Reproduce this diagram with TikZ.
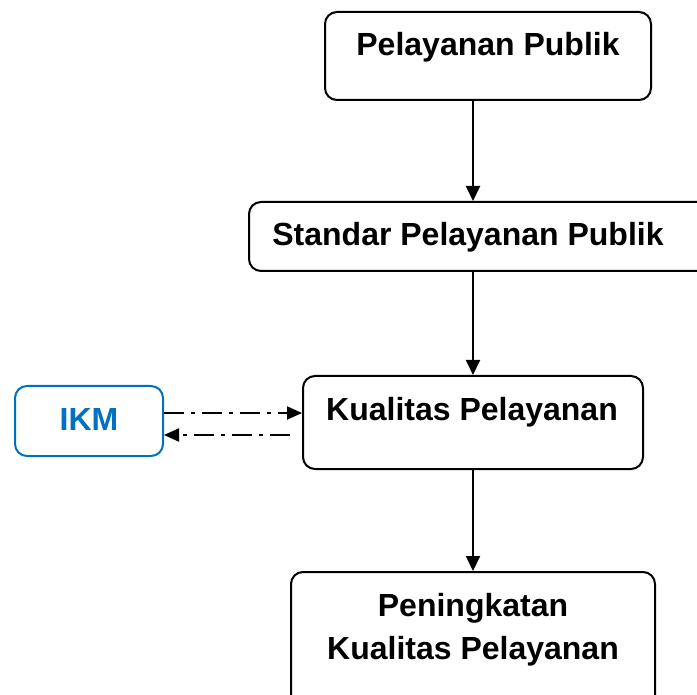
\documentclass[tikz,border=0pt]{standalone}
\usepackage{fontspec}
\setmainfont{Liberation Sans}
\usetikzlibrary{positioning, calc, arrows.meta}
\definecolor{ikmblue}{RGB}{0,112,192}

\begin{document}
\begin{tikzpicture}[x=1pt, y=-1pt,
		kotak/.style={draw, line width=2pt, rounded corners=12pt, inner sep=0pt},
		teks/.style={font=\fontsize{32}{43}\selectfont\bfseries, align=center, inner sep=0pt},
		panah/.style={line width=2pt, -{Triangle[length=15pt, width=14pt]}},
		putus/.style={line width=2pt, dash pattern=on 20pt off 7pt on 4pt off 7pt, -{Triangle[length=15pt, width=13pt]}}]
		\useasboundingbox (0,0) rectangle (697,695);
		%% kotak
		\node[kotak, minimum width=326pt, minimum height=88pt] (pp) at (488,56) {};
		\node[kotak, minimum width=471pt, minimum height=69pt] (spp) at (484.5,236.5) {};
		\node[kotak, minimum width=340pt, minimum height=93pt] (kp) at (473,422.5) {};
		\node[kotak, minimum width=364pt, minimum height=148pt] (pkp) at (473,646) {};
		\node[kotak, draw=ikmblue, minimum width=148pt, minimum height=70pt] (ikm) at (89,421) {};
		%% teks
		\node[teks] (ppT) at (488,47) {Pelayanan Publik};
		\node[teks] (sppT) at (468,237) {Standar Pelayanan Publik};
		\node[teks] (kpT) at (472,412) {Kualitas Pelayanan};
		\node[teks] (pkpT) at (473,630) {Peningkatan\\Kualitas Pelayanan};
		\node[teks, text=ikmblue] (ikmT) at (89,419) {IKM};
		%% panah
		\draw[panah] (kp.north |- pp.south) -- (kp.north |- spp.north);
		\draw[panah] (kp.north |- spp.south) -- (kp.north);
		\draw[panah] (kp.south) -- (pkp.north);
		\draw[putus] ($(ikm.east)+(0,-8)$) -- ($(kp.west |- ikm.east)+(0,-8)$);
		\draw[putus] ($(kp.west |- ikm.east)+(-12,14)$) -- ($(ikm.east)+(0,14)$);
\end{tikzpicture}
\end{document}
